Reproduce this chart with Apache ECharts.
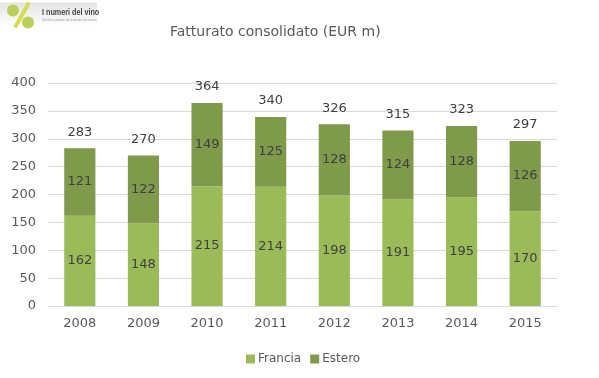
<!DOCTYPE html>
<html>
<head>
<meta charset="utf-8">
<title>Fatturato consolidato</title>
<script src="https://cdn.jsdelivr.net/npm/echarts@6/dist/echarts.min.js"></script>
<style>
html, body { margin: 0; padding: 0; background: #fff; }
#main { width: 599px; height: 378px; }
</style>
</head>
<body>
<div id="main"></div>
<script>
var anni = ['2008', '2009', '2010', '2011', '2012', '2013', '2014', '2015'];
var francia = [162, 148, 215, 214, 198, 191, 195, 170];
var estero = [121, 122, 149, 125, 128, 124, 128, 126];
var totale = [283, 270, 364, 340, 326, 315, 323, 297];

var font = '"DejaVu Sans", sans-serif';
var chart = echarts.init(document.getElementById('main'));

var option = {
	animation: false,
	backgroundColor: '#fff',
	title: {
		text: 'Fatturato consolidato (EUR m)',
		left: 165,
		top: 20,
		textStyle: { color: '#595959', fontSize: 14, fontWeight: 'normal', fontFamily: font }
	},
	legend: {
		data: ['Francia', 'Estero'],
		icon: 'rect',
		top: 348,
		left: 241,
		itemWidth: 9,
		itemHeight: 9,
		itemGap: 9,
		textStyle: { color: '#595959', fontSize: 12, fontFamily: font, padding: [0, 0, 0, -2] }
	},
	grid: { left: 48, right: 42, top: 83, bottom: 72 },
	xAxis: {
		type: 'category',
		data: anni,
		axisTick: { show: false },
		axisLine: { lineStyle: { color: '#d9d9d9', width: 1 } },
		axisLabel: { color: '#595959', fontSize: 13, fontFamily: font, margin: 11 }
	},
	yAxis: {
		type: 'value',
		min: 0,
		max: 400,
		interval: 50,
		axisLine: { show: false },
		axisTick: { show: false },
		axisLabel: { color: '#595959', fontSize: 13, fontFamily: font, margin: 12 },
		splitLine: { lineStyle: { color: '#d9d9d9', width: 1 } }
	},
	series: [{
		name: 'Francia',
		type: 'bar',
		stack: 'tot',
		barWidth: '49%',
		data: francia,
		itemStyle: { color: '#9bbb59' },
		label: { show: true, position: 'inside', color: '#404040', fontSize: 13, fontFamily: font }
	}, {
		name: 'Estero',
		type: 'bar',
		stack: 'tot',
		data: estero,
		itemStyle: { color: '#7f9a4b' },
		label: { show: true, position: 'inside', color: '#404040', fontSize: 13, fontFamily: font }
	}, {
		// solo etichetta del totale sopra la colonna
		name: 'Totale',
		type: 'line',
		data: totale,
		symbol: 'circle',
		symbolSize: 1,
		itemStyle: { color: 'transparent' },
		lineStyle: { color: 'transparent' },
		label: { show: true, position: 'top', distance: 9, color: '#404040', fontSize: 13, fontFamily: font }
	}],
	graphic: [{
		// logo in alto a sinistra
		type: 'group',
		left: 0,
		top: 0,
		silent: true,
		children: [{
			type: 'rect',
			shape: { x: 0, y: 0, width: 97, height: 24 },
			style: {
				fill: new echarts.graphic.LinearGradient(0, 0, 0, 1, [
					{ offset: 0, color: '#e4e4e4' },
					{ offset: 1, color: '#ffffff' }
				])
			}
		}, {
			type: 'circle',
			shape: { cx: 13, cy: 8, r: 6 },
			style: { fill: '#bccf5a' }
		}, {
			type: 'line',
			shape: { x1: 29, y1: 0, x2: 15, y2: 25 },
			style: { stroke: '#d5dc52', lineWidth: 4 }
		}, {
			type: 'circle',
			shape: { cx: 28, cy: 20, r: 6 },
			style: { fill: '#bccf5a' }
		}, {
			type: 'text',
			x: 42,
			y: 6,
			scaleX: 0.8,
			style: { text: 'I numeri del vino', fill: '#444444', fontSize: 9, fontWeight: 'bold', fontFamily: '"Liberation Sans", sans-serif' }
		}, {
			type: 'text',
			x: 42,
			y: 16,
			scaleX: 0.8,
			style: { text: 'Statistiche, produttori, dati di mercato e di consumo', fill: '#999999', fontSize: 3, fontFamily: '"Liberation Sans", sans-serif' }
		}]
	}]
};

chart.setOption(option);
</script>
</body>
</html>
